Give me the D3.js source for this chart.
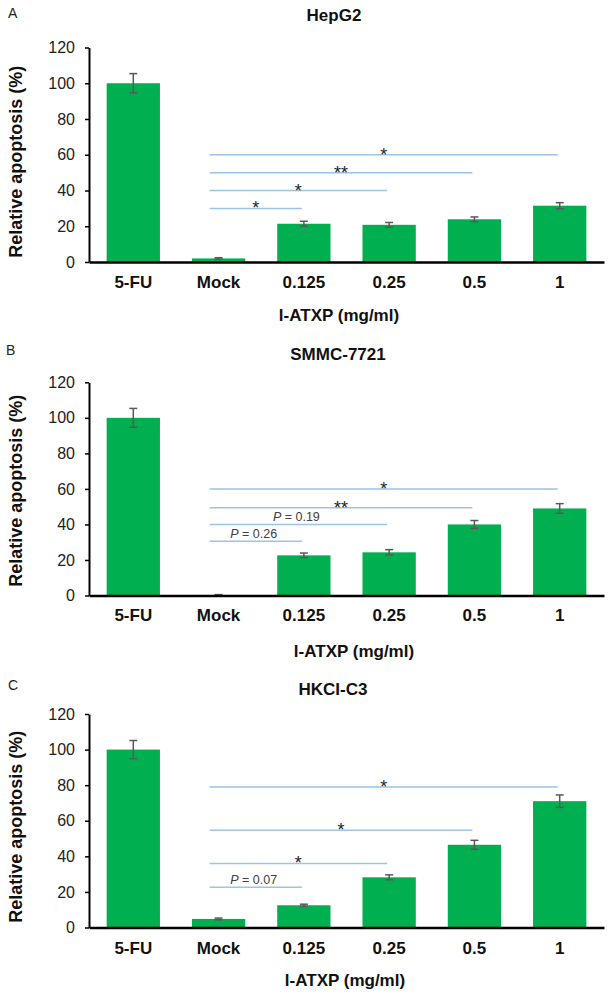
<!DOCTYPE html>
<html>
<head>
<meta charset="utf-8">
<script src="https://cdn.jsdelivr.net/npm/d3@7/dist/d3.min.js"></script>
<style>
  html, body { margin: 0; padding: 0; background: #fff; }
  svg { display: block; font-family: "Liberation Sans", Arial, sans-serif; }
</style>
</head>
<body>
<svg id="chart" width="610" height="995"></svg>
<script>
// ---------- DATA ----------
const categories = ["5-FU", "Mock", "0.125", "0.25", "0.5", "1"];
const yTicks = [0, 20, 40, 60, 80, 100, 120];
const xAxisTitle = "l-ATXP (mg/ml)";
const yAxisTitle = "Relative apoptosis (%)";

const panelLetters = ["A", "B", "C"];
const cellLines = ["HepG2", "SMMC-7721", "HKCI-C3"];

const hepg2Values = [100, 2, 21.4, 20.8, 23.9, 31.5];
const hepg2Errors = [5.4, 0.4, 1.4, 1.3, 1.3, 1.7];
const smmcValues = [100, 0.3, 22.6, 24.3, 40, 49];
const smmcErrors = [5.3, 0.2, 1.3, 1.5, 2.2, 2.7];
const hkciValues = [100, 4.8, 12.5, 28.2, 46.5, 71];
const hkciErrors = [5.1, 0.5, 0.6, 1.4, 2.5, 3.5];

// comparisons: each line runs from "Mock" to a target category
const compTargets = ["0.125", "0.25", "0.5", "1"];
const hepg2CompLevels = [30, 40, 50, 60];
const hepg2CompLabels = ["*", "*", "**", "*"];
const smmcCompLevels = [30.6, 40, 49.4, 60];
const smmcCompLabels = ["P = 0.26", "P = 0.19", "**", "*"];
const hkciCompLevels = [22.6, 36, 54.7, 79];
const hkciCompLabels = ["P = 0.07", "*", "*", "*"];

const panelValues = [hepg2Values, smmcValues, hkciValues];
const panelErrors = [hepg2Errors, smmcErrors, hkciErrors];
const panelCompLevels = [hepg2CompLevels, smmcCompLevels, hkciCompLevels];
const panelCompLabels = [hepg2CompLabels, smmcCompLabels, hkciCompLabels];

// ---------- LAYOUT ----------
const layout = [
  { top: 47.5, base: 262, titleX: 334, titleY: 20.7, letterX: 8, letterY: 17.5, xTitleX: 339, xTitleY: 320.5, yTitleY: 161.7, catPad: 14.4 },
  { top: 382.3, base: 595.5, titleX: 338, titleY: 359.5, letterX: 6, letterY: 355, xTitleX: 354, xTitleY: 657, yTitleY: 490.7, catPad: 13.4 },
  { top: 714, base: 927.5, titleX: 333, titleY: 695, letterX: 8, letterY: 690, xTitleX: 345, xTitleY: 985.5, yTitleY: 826.7, catPad: 14.4 }
];
const axisX = 89, axisRight = 604;
const barColor = "#00b050";
const errColor = "#595959";
const compColor = "#9dc3e6";

const svg = d3.select("#chart");

const x = d3.scaleBand().domain(categories).range([axisX, axisRight])
  .paddingInner(0.375).paddingOuter(0.207);

layout.forEach((L, i) => {
  const values = panelValues[i], errors = panelErrors[i];
  const y = d3.scaleLinear().domain([0, 120]).range([L.base, L.top]);
  const g = svg.append("g");

  // panel letter
  g.append("text").attr("x", L.letterX).attr("y", L.letterY)
    .attr("font-size", 14).attr("fill", "#222").text(panelLetters[i]);
  // title
  g.append("text").attr("x", L.titleX).attr("y", L.titleY)
    .attr("text-anchor", "middle").attr("font-size", 17).attr("font-weight", "bold")
    .attr("fill", "#111").text(cellLines[i]);

  // bars
  g.selectAll("rect.bar").data(categories).enter().append("rect")
    .attr("class", "bar")
    .attr("x", d => x(d)).attr("width", x.bandwidth())
    .attr("y", (d, k) => y(values[k]))
    .attr("height", (d, k) => y(0) - y(values[k]))
    .attr("fill", barColor);

  // error bars
  const eb = g.selectAll("g.err").data(categories).enter().append("g").attr("class", "err");
  const cx = d => x(d) + x.bandwidth() / 2;
  eb.append("line").attr("x1", cx).attr("x2", cx)
    .attr("y1", (d, k) => y(values[k] + errors[k])).attr("y2", (d, k) => y(Math.max(0, values[k] - errors[k])))
    .attr("stroke", errColor).attr("stroke-width", 1.5);
  [1, -1].forEach(s => {
    eb.append("line").attr("x1", d => cx(d) - 4).attr("x2", d => cx(d) + 4)
      .attr("y1", (d, k) => y(Math.max(0, values[k] + s * errors[k])))
      .attr("y2", (d, k) => y(Math.max(0, values[k] + s * errors[k])))
      .attr("stroke", errColor).attr("stroke-width", 1.5);
  });

  // y axis
  const ya = g.append("g").attr("transform", `translate(${axisX},0)`)
    .call(d3.axisLeft(y).tickValues(yTicks).tickSize(4).tickSizeOuter(0).tickPadding(10));
  ya.select(".domain").attr("stroke", "#000").attr("stroke-width", 2);
  ya.selectAll(".tick line").attr("stroke", "#000").attr("stroke-width", 1.5);
  ya.selectAll(".tick text").attr("font-size", 16).attr("fill", "#222")
    .attr("font-family", "Liberation Sans, Arial, sans-serif");

  // x axis
  const xa = g.append("g").attr("transform", `translate(0,${L.base})`)
    .call(d3.axisBottom(x).tickSize(0).tickSizeOuter(0).tickPadding(L.catPad));
  xa.select(".domain").attr("stroke", "#000").attr("stroke-width", 2.5);
  xa.selectAll(".tick text").attr("font-size", 17).attr("font-weight", "bold").attr("fill", "#111")
    .attr("font-family", "Liberation Sans, Arial, sans-serif");

  // axis titles
  g.append("text").attr("x", L.xTitleX).attr("y", L.xTitleY)
    .attr("text-anchor", "middle").attr("font-size", 17).attr("font-weight", "bold")
    .attr("fill", "#111").text(xAxisTitle);
  g.append("text").attr("transform", `translate(22,${L.yTitleY}) rotate(-90)`)
    .attr("text-anchor", "middle").attr("font-size", 18).attr("font-weight", "bold")
    .attr("fill", "#111").text(yAxisTitle);

  // comparison lines
  const mockC = x("Mock") + x.bandwidth() / 2;
  compTargets.forEach((t, k) => {
    const lv = panelCompLevels[i][k];
    const x1 = mockC - 9, x2 = x(t) + x.bandwidth() / 2 - 2;
    const ly = y(lv);
    g.append("line").attr("x1", x1).attr("x2", x2).attr("y1", ly).attr("y2", ly)
      .attr("stroke", compColor).attr("stroke-width", 1.5);
    const lab = panelCompLabels[i][k];
    const mid = (x1 + x2) / 2;
    if (lab.startsWith("P")) {
      const tx = g.append("text").attr("x", mid - 2).attr("y", ly - 3)
        .attr("text-anchor", "middle").attr("font-size", 12.5).attr("fill", "#404040");
      tx.append("tspan").attr("font-style", "italic").text("P");
      tx.append("tspan").text(lab.slice(1));
    } else {
      g.append("text").attr("x", mid).attr("y", ly + 6)
        .attr("text-anchor", "middle").attr("font-size", 18).attr("fill", "#222")
        .text(lab);
    }
  });
});
</script>
</body>
</html>
